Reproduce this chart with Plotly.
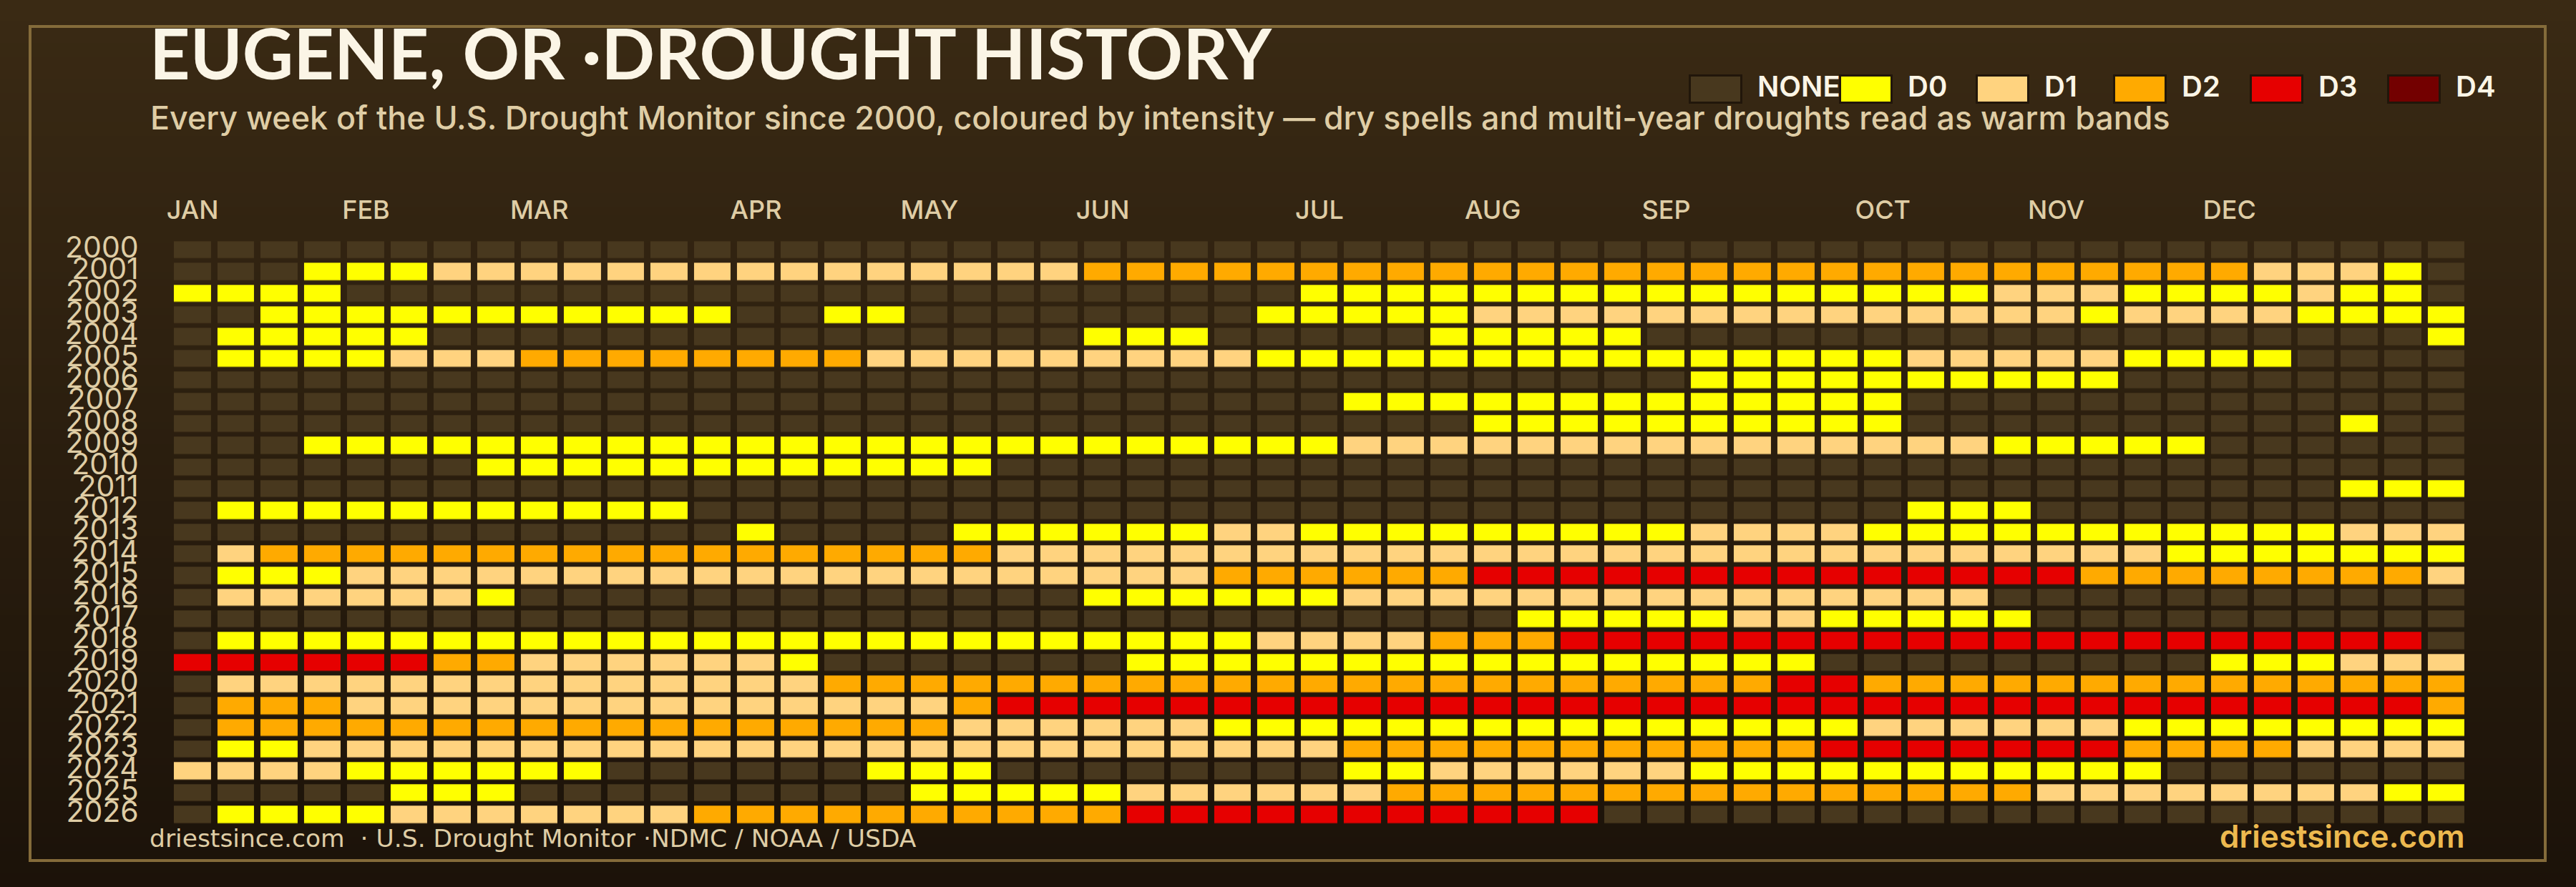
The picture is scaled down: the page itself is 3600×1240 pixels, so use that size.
import plotly.graph_objects as go

# weeks per year: 0=none, 1=D0, 2=D1, 3=D2, 4=D3, 5=D4
years = [str(y) for y in range(2000, 2027)]
weeks = list(range(53))

month_labels = ["JAN", "FEB", "MAR", "APR", "MAY", "JUN", "JUL", "AUG", "SEP", "OCT", "NOV", "DEC"]
month_weeks = [0, 4, 8, 13, 17, 21, 26, 30, 34, 39, 43, 47]

legend_labels = ["NONE", "D0", "D1", "D2", "D3", "D4"]
level_colors = ["#48381E", "#FFFF00", "#FFD37F", "#FFAA00", "#E60000", "#730000"]

y2000 = [0,0,0,0,0,0,0,0,0,0, 0,0,0,0,0,0,0,0,0,0, 0,0,0,0,0,0,0,0,0,0, 0,0,0,0,0,0,0,0,0,0, 0,0,0,0,0,0,0,0,0,0, 0,0,0]
y2001 = [0,0,0,1,1,1,2,2,2,2, 2,2,2,2,2,2,2,2,2,2, 2,3,3,3,3,3,3,3,3,3, 3,3,3,3,3,3,3,3,3,3, 3,3,3,3,3,3,3,3,2,2, 2,1,0]
y2002 = [1,1,1,1,0,0,0,0,0,0, 0,0,0,0,0,0,0,0,0,0, 0,0,0,0,0,0,1,1,1,1, 1,1,1,1,1,1,1,1,1,1, 1,1,2,2,2,1,1,1,1,2, 1,1,0]
y2003 = [0,0,1,1,1,1,1,1,1,1, 1,1,1,0,0,1,1,0,0,0, 0,0,0,0,0,1,1,1,1,1, 2,2,2,2,2,2,2,2,2,2, 2,2,2,2,1,2,2,2,2,1, 1,1,1]
y2004 = [0,1,1,1,1,1,0,0,0,0, 0,0,0,0,0,0,0,0,0,0, 0,1,1,1,0,0,0,0,0,1, 1,1,1,1,0,0,0,0,0,0, 0,0,0,0,0,0,0,0,0,0, 0,0,1]
y2005 = [0,1,1,1,1,2,2,2,3,3, 3,3,3,3,3,3,2,2,2,2, 2,2,2,2,2,1,1,1,1,1, 1,1,1,1,1,1,1,1,1,1, 2,2,2,2,2,1,1,1,1,0, 0,0,0]
y2006 = [0,0,0,0,0,0,0,0,0,0, 0,0,0,0,0,0,0,0,0,0, 0,0,0,0,0,0,0,0,0,0, 0,0,0,0,0,1,1,1,1,1, 1,1,1,1,1,0,0,0,0,0, 0,0,0]
y2007 = [0,0,0,0,0,0,0,0,0,0, 0,0,0,0,0,0,0,0,0,0, 0,0,0,0,0,0,0,1,1,1, 1,1,1,1,1,1,1,1,1,1, 0,0,0,0,0,0,0,0,0,0, 0,0,0]
y2008 = [0,0,0,0,0,0,0,0,0,0, 0,0,0,0,0,0,0,0,0,0, 0,0,0,0,0,0,0,0,0,0, 1,1,1,1,1,1,1,1,1,1, 0,0,0,0,0,0,0,0,0,0, 1,0,0]
y2009 = [0,0,0,1,1,1,1,1,1,1, 1,1,1,1,1,1,1,1,1,1, 1,1,1,1,1,1,1,2,2,2, 2,2,2,2,2,2,2,2,2,2, 2,2,1,1,1,1,1,0,0,0, 0,0,0]
y2010 = [0,0,0,0,0,0,0,1,1,1, 1,1,1,1,1,1,1,1,1,0, 0,0,0,0,0,0,0,0,0,0, 0,0,0,0,0,0,0,0,0,0, 0,0,0,0,0,0,0,0,0,0, 0,0,0]
y2011 = [0,0,0,0,0,0,0,0,0,0, 0,0,0,0,0,0,0,0,0,0, 0,0,0,0,0,0,0,0,0,0, 0,0,0,0,0,0,0,0,0,0, 0,0,0,0,0,0,0,0,0,0, 1,1,1]
y2012 = [0,1,1,1,1,1,1,1,1,1, 1,1,0,0,0,0,0,0,0,0, 0,0,0,0,0,0,0,0,0,0, 0,0,0,0,0,0,0,0,0,0, 1,1,1,0,0,0,0,0,0,0, 0,0,0]
y2013 = [0,0,0,0,0,0,0,0,0,0, 0,0,0,1,0,0,0,0,1,1, 1,1,1,1,2,2,1,1,1,1, 1,1,1,1,1,2,2,2,2,1, 1,1,1,1,1,1,1,1,1,1, 2,2,2]
y2014 = [0,2,3,3,3,3,3,3,3,3, 3,3,3,3,3,3,3,3,3,2, 2,2,2,2,2,2,2,2,2,2, 2,2,2,2,2,2,2,2,2,2, 2,2,2,2,2,2,1,1,1,1, 1,1,1]
y2015 = [0,1,1,1,2,2,2,2,2,2, 2,2,2,2,2,2,2,2,2,2, 2,2,2,2,3,3,3,3,3,3, 4,4,4,4,4,4,4,4,4,4, 4,4,4,4,3,3,3,3,3,3, 3,3,2]
y2016 = [0,2,2,2,2,2,2,1,0,0, 0,0,0,0,0,0,0,0,0,0, 0,1,1,1,1,1,1,2,2,2, 2,2,2,2,2,2,2,2,2,2, 2,2,0,0,0,0,0,0,0,0, 0,0,0]
y2017 = [0,0,0,0,0,0,0,0,0,0, 0,0,0,0,0,0,0,0,0,0, 0,0,0,0,0,0,0,0,0,0, 0,1,1,1,1,1,2,2,1,1, 1,1,1,0,0,0,0,0,0,0, 0,0,0]
y2018 = [0,1,1,1,1,1,1,1,1,1, 1,1,1,1,1,1,1,1,1,1, 1,1,1,1,1,2,2,2,2,3, 3,3,4,4,4,4,4,4,4,4, 4,4,4,4,4,4,4,4,4,4, 4,4,0]
y2019 = [4,4,4,4,4,4,3,3,2,2, 2,2,2,2,1,0,0,0,0,0, 0,0,1,1,1,1,1,1,1,1, 1,1,1,1,1,1,1,1,0,0, 0,0,0,0,0,0,0,1,1,1, 2,2,2]
y2020 = [0,2,2,2,2,2,2,2,2,2, 2,2,2,2,2,3,3,3,3,3, 3,3,3,3,3,3,3,3,3,3, 3,3,3,3,3,3,3,4,4,3, 3,3,3,3,3,3,3,3,3,3, 3,3,3]
y2021 = [0,3,3,3,2,2,2,2,2,2, 2,2,2,2,2,2,2,2,3,4, 4,4,4,4,4,4,4,4,4,4, 4,4,4,4,4,4,4,4,4,4, 4,4,4,4,4,4,4,4,4,4, 4,4,3]
y2022 = [0,3,3,3,3,3,3,3,3,3, 3,3,3,3,3,3,3,3,2,2, 2,2,2,2,1,1,1,1,1,1, 1,1,1,1,1,1,1,1,1,2, 2,2,2,2,2,1,1,1,1,1, 1,1,1]
y2023 = [0,1,1,2,2,2,2,2,2,2, 2,2,2,2,2,2,2,2,2,2, 2,2,2,2,2,2,2,3,3,3, 3,3,3,3,3,3,3,3,4,4, 4,4,4,4,4,3,3,3,3,2, 2,2,2]
y2024 = [2,2,2,2,1,1,1,1,1,1, 0,0,0,0,0,0,1,1,1,0, 0,0,0,0,0,0,0,1,1,2, 2,2,2,2,2,1,1,1,1,1, 1,1,1,1,1,1,0,0,0,0, 0,0,0]
y2025 = [0,0,0,0,0,1,1,1,0,0, 0,0,0,0,0,0,0,1,1,1, 1,1,2,2,2,2,2,2,3,3, 3,3,3,3,3,3,3,3,3,3, 3,3,3,2,2,2,2,2,2,2, 2,1,1]
y2026 = [0,1,1,1,1,2,2,2,2,2, 2,2,3,3,3,3,3,3,3,3, 3,3,4,4,4,4,4,4,4,4, 4,4,4,0,0,0,0,0,0,0, 0,0,0,0,0,0,0,0,0,0, 0,0,0]

z = [y2000, y2001, y2002, y2003, y2004, y2005, y2006, y2007, y2008, y2009,
     y2010, y2011, y2012, y2013, y2014, y2015, y2016, y2017, y2018, y2019,
     y2020, y2021, y2022, y2023, y2024, y2025, y2026]

W, H = 3600, 1240
BG_TOP = (58, 42, 20)
BG_BOTTOM = (27, 18, 9)
CREAM = "#FBF5E6"
TAN = "#DFCDA5"
FONT = "Inter"


def px(x):
    return x / W


def py(y):
    return 1 - y / H


# stepped colorscale so each level keeps one flat colour
colorscale = []
for i, c in enumerate(level_colors):
    colorscale.append([i / 6, c])
    colorscale.append([(i + 1) / 6, c])

fig = go.Figure(go.Heatmap(
    z=z,
    x=weeks,
    y=years,
    zmin=0,
    zmax=6,
    colorscale=colorscale,
    showscale=False,
    xgap=9,
    ygap=6.5,
    hovertemplate="%{y} week %{x}<extra></extra>"
))

fig.update_xaxes(
    domain=[px(238.9), px(3449)],
    range=[-0.5, 52.5],
    side="top",
    automargin=False,
    tickmode="array",
    tickvals=month_weeks,
    ticktext=month_labels,
    tickfont=dict(family=FONT, size=36, color=TAN, weight=500),
    ticks="outside",
    ticklen=13,
    tickcolor="rgba(0,0,0,0)",
    showgrid=False,
    zeroline=False,
    showline=False
)
fig.update_yaxes(
    domain=[py(1153.8), py(334.3)],
    autorange="reversed",
    type="category",
    automargin=False,
    tickmode="array",
    tickvals=years,
    ticktext=years,
    ticklabelshift=4,
    tickfont=dict(family=FONT, size=41, color=TAN),
    ticks="outside",
    ticklen=36,
    tickcolor="rgba(0,0,0,0)",
    showgrid=False,
    zeroline=False,
    showline=False
)

# background gradient, drawn as thin strips
shapes = []
strip = 10
for top in range(0, H, strip):
    t = top / H
    c = [round(a + (b - a) * t) for a, b in zip(BG_TOP, BG_BOTTOM)]
    shapes.append(dict(
        type="rect", xref="paper", yref="paper", layer="below",
        x0=0, x1=1, y0=py(top + strip), y1=py(top),
        fillcolor=f"rgb({c[0]},{c[1]},{c[2]})", line_width=0
    ))

# frame
shapes.append(dict(
    type="rect", xref="paper", yref="paper", layer="below",
    x0=px(42), x1=px(3557), y0=py(1203), y1=py(37),
    fillcolor="rgba(0,0,0,0)", line=dict(color="#846B3A", width=4)
))

annotations = []


def add_text(x, y, text, size, color, anchor="left", weight=400, family=FONT):
    # y is the pixel position of the text middle
    annotations.append(dict(
        xref="paper", yref="paper", x=px(x), y=py(y), text=text,
        showarrow=False, xanchor=anchor, yanchor="middle",
        font=dict(family=family, size=size, color=color, weight=weight),
        borderpad=0, borderwidth=0
    ))


add_text(209, 73, "EUGENE, OR ·DROUGHT HISTORY", 98.5, CREAM, weight=700, family="Lato")
add_text(210, 165, "Every week of the U.S. Drought Monitor since 2000, coloured by intensity — dry spells and multi-year droughts read as warm bands", 44.8, TAN, weight=500)
add_text(209, 1172, "driestsince.com  · U.S. Drought Monitor ·NDMC / NOAA / USDA", 34.5, TAN, family="DejaVu Sans")
add_text(3445, 1169, "driestsince.com", 44, "#EDB94F", anchor="right", weight=600)

# legend
swatch_x = [2360, 2570, 2761, 2953, 3144, 3336]
for label, color, sx in zip(legend_labels, level_colors, swatch_x):
    shapes.append(dict(
        type="rect", xref="paper", yref="paper", layer="below",
        x0=px(sx + 1.5), x1=px(sx + 73.5), y0=py(143.5), y1=py(105.5),
        fillcolor=color, line=dict(color="#21160A", width=3)
    ))
    add_text(sx + 96, 120, label, 40, CREAM, weight=600)

fig.update_layout(
    width=W,
    height=H,
    margin=dict(l=0, r=0, t=0, b=0),
    paper_bgcolor="rgb(43,30,14)",
    plot_bgcolor="rgba(0,0,0,0)",
    shapes=shapes,
    annotations=annotations,
    showlegend=False
)

fig.write_html("out.html", config=dict(displayModeBar=False), post_script="document.body.style.margin='0';")
